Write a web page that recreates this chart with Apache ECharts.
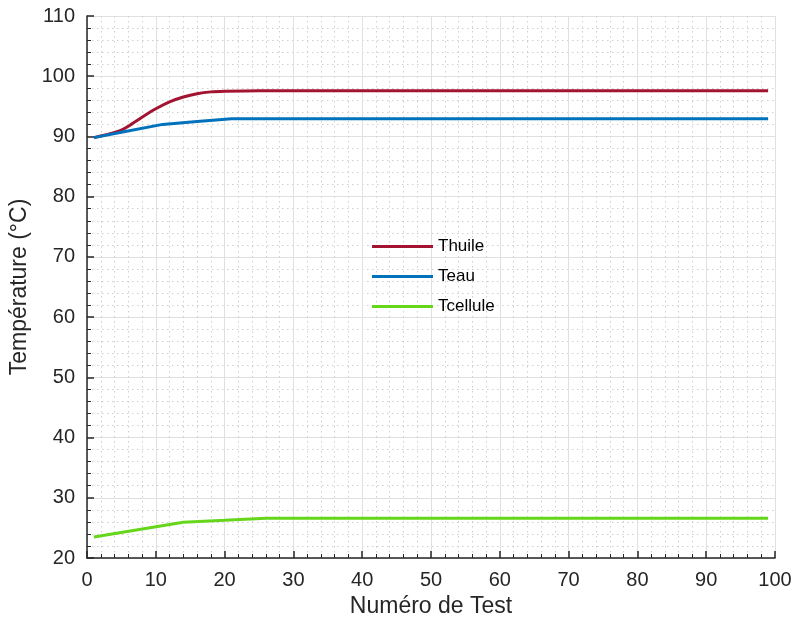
<!DOCTYPE html>
<html><head><meta charset="utf-8">
<script src="https://cdn.jsdelivr.net/npm/echarts@6/dist/echarts.min.js"></script>
<style>html,body{margin:0;padding:0;background:#fff}#c{width:793px;height:619px}</style>
</head><body><div id="c"></div>
<script>
const seriesNames = ['Thuile', 'Teau', 'Tcellule'];
const thuile = [[1,89.8],[3,90.35],[4,90.65],[5,91.05],[6,91.7],[8,93.2],[10,94.6],[12,95.75],[14,96.55],[16,97.1],[18,97.4],[20,97.5],[25,97.6],[99,97.6]];
const teau = [[1,89.8],[5,90.7],[11,92.0],[16,92.5],[21,92.95],[99,92.95]];
const tcellule = [[1,23.5],[14,25.95],[20,26.25],[26,26.6],[99,26.6]];
const colors = ['#A2142F', '#0072BD', '#66D61A'];
const xTitle = 'Numéro de Test';
const yTitle = 'Température (°C)';

const FONT = '"Liberation Sans", Arial, sans-serif';
const chart = echarts.init(document.getElementById('c'));
const axisCommon = {
  axisLine: {show: true, lineStyle: {color: '#262626', width: 1.5}},
  axisTick: {show: true, inside: true, length: 7, lineStyle: {color: '#262626', width: 1.5}},
  minorTick: {show: true, splitNumber: 5, length: 4, lineStyle: {color: '#262626', width: 1}},
  axisLabel: {color: '#262626', fontSize: 20, fontFamily: FONT},
  splitLine: {show: true, lineStyle: {color: '#e0e0e0', width: 1}},
  minorSplitLine: {show: true, lineStyle: {color: '#cfcfcf', width: 1, type: [1.5, 3.5]}},
  nameTextStyle: {color: '#262626', fontSize: 23, fontFamily: FONT}
};
chart.setOption({
  animation: false,
  grid: {left: 87, right: 18, top: 16, bottom: 61, containLabel: false, outerBoundsMode: 'none'},
  xAxis: Object.assign({}, axisCommon, {
    type: 'value', min: 0, max: 100, interval: 10,
    name: xTitle, nameLocation: 'middle', nameGap: 36,
    axisLabel: Object.assign({}, axisCommon.axisLabel, {margin: 12})
  }),
  yAxis: Object.assign({}, axisCommon, {
    type: 'value', min: 20, max: 110, interval: 10,
    name: yTitle, nameLocation: 'middle', nameGap: 45,
    axisLabel: Object.assign({}, axisCommon.axisLabel, {margin: 12})
  }),
  legend: {
    orient: 'vertical', left: 372, top: 238, padding: 0, itemWidth: 61, itemHeight: 14, itemGap: 13,
    icon: 'path://M0,6 L61,6 L61,9 L0,9 Z',
    textStyle: {color: '#000', fontSize: 17, fontFamily: FONT},
    data: seriesNames
  },
  series: [
    {name: seriesNames[0], type: 'line', data: thuile, smooth: 0.3, showSymbol: false, lineStyle: {width: 3, color: colors[0]}, itemStyle: {color: colors[0]}},
    {name: seriesNames[1], type: 'line', data: teau, showSymbol: false, lineStyle: {width: 3, color: colors[1]}, itemStyle: {color: colors[1]}},
    {name: seriesNames[2], type: 'line', data: tcellule, showSymbol: false, lineStyle: {width: 3, color: colors[2]}, itemStyle: {color: colors[2]}}
  ]
});
</script></body></html>
